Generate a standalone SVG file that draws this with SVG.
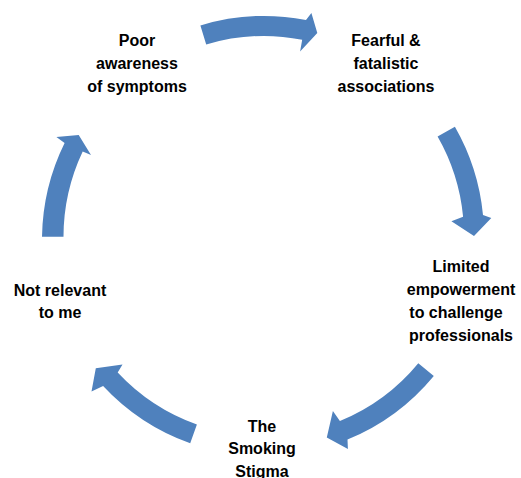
<svg xmlns="http://www.w3.org/2000/svg" width="521" height="478" viewBox="0 0 521 478">
<style>
.arr{fill:#4F81BD;stroke:none}
.lbl{font-family:"Liberation Sans",Arial,sans-serif;font-weight:bold;font-size:16px;fill:#000;text-anchor:middle}
</style>
<rect width="521" height="478" fill="#fff"/>
<g id="connectors">
<path class="arr" d="M200.4,25.4 A220,220 0 0 1 306,20 L311.4,13 L317.3,32.9 L300.1,51.4 L302.2,39.7 A200,200 0 0 0 206.2,44.5 Z"/>
<path class="arr" d="M454.9,126.7 A220,220 0 0 1 483,214.9 L491.3,218.1 L474,236 L451.4,221.2 L463.1,216.8 A200,200 0 0 0 437.6,136.6 Z"/>
<path class="arr" d="M433.8,375.9 A220,220 0 0 1 347.5,439.5 L347.9,449.1 L326.8,437.5 L332.9,410.9 L339.9,421 A200,200 0 0 0 418.3,363.2 Z"/>
<path class="arr" d="M190.2,443.3 A220,220 0 0 1 103.1,386 L91.5,391.5 L95.8,368.3 L122.5,364.5 L117.7,372.4 A200,200 0 0 0 196.9,424.4 Z"/>
<path class="arr" d="M42,236.7 A220,220 0 0 1 64.6,143 L56.4,137 L78.7,135 L91,155 L82.7,151.5 A200,200 0 0 0 63.5,236.7 Z"/>
</g>
<g id="node-poor-awareness">
<text class="lbl" x="137" y="46">Poor</text>
<text class="lbl" x="137" y="69">awareness</text>
<text class="lbl" x="137" y="92">of symptoms</text>
</g>
<g id="node-fearful">
<text class="lbl" x="386" y="46">Fearful &amp;</text>
<text class="lbl" x="386" y="69">fatalistic</text>
<text class="lbl" x="386" y="92">associations</text>
</g>
<g id="node-limited">
<text class="lbl" x="461" y="272">Limited</text>
<text class="lbl" x="461" y="295">empowerment</text>
<text class="lbl" x="456" y="318">to challenge</text>
<text class="lbl" x="461" y="341">professionals</text>
</g>
<g id="node-smoking-stigma">
<text class="lbl" x="262" y="432">The</text>
<text class="lbl" x="262" y="454">Smoking</text>
<text class="lbl" x="262" y="477">Stigma</text>
</g>
<g id="node-not-relevant">
<text class="lbl" x="60" y="296">Not relevant</text>
<text class="lbl" x="60" y="318">to me</text>
</g>
</svg>
